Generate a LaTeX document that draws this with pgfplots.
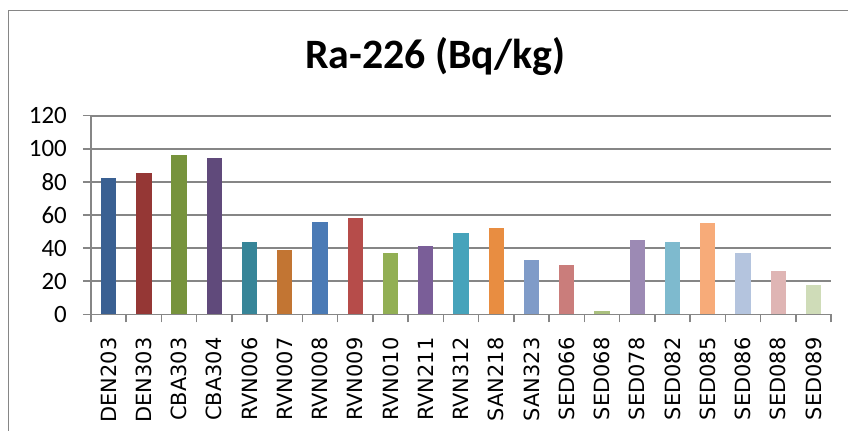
\documentclass[border=0pt]{standalone}
\usepackage{fontspec}
\setmainfont{Carlito}
\newfontfamily\dejavu{DejaVu Sans}
\usepackage{pgfplots}
\pgfplotsset{compat=1.18}
\definecolor{axgray}{RGB}{134,134,134}
\definecolor{framegray}{RGB}{134,134,134}
\definecolor{c1}{RGB}{58,96,146}
\definecolor{c2}{RGB}{149,55,53}
\definecolor{c3}{RGB}{119,147,60}
\definecolor{c4}{RGB}{96,74,123}
\definecolor{c5}{RGB}{55,133,152}
\definecolor{c6}{RGB}{194,117,51}
\definecolor{c7}{RGB}{74,122,181}
\definecolor{c8}{RGB}{182,76,74}
\definecolor{c9}{RGB}{146,175,84}
\definecolor{c10}{RGB}{122,94,152}
\definecolor{c11}{RGB}{70,163,187}
\definecolor{c12}{RGB}{232,141,65}
\definecolor{c13}{RGB}{127,155,200}
\definecolor{c14}{RGB}{202,125,123}
\definecolor{c15}{RGB}{170,192,126}
\definecolor{c16}{RGB}{156,138,180}
\definecolor{c17}{RGB}{126,186,206}
\definecolor{c18}{RGB}{247,171,121}
\definecolor{c19}{RGB}{180,196,222}
\definecolor{c20}{RGB}{223,181,180}
\definecolor{c21}{RGB}{207,220,184}
\begin{document}
\begin{tikzpicture}[x=1bp,y=1bp]
\useasboundingbox (0,0) rectangle (848,430);
\draw[framegray, line width=1.2bp] (8.5,-5) -- (8.5,419.5) -- (853,419.5);
\node[font=\fontsize{42}{42}\selectfont\bfseries, anchor=base] at (435,362) {Ra-226 (Bq/kg)};
\begin{axis}[
  at={(91bp,115.7bp)}, anchor=south west,
  scale only axis, width=740bp, height=198.6bp,
  xmin=-0.5, xmax=20.5, ymin=0, ymax=120,
  ytick={0,20,...,120},
  xtick={-0.5,0.5,...,20.5},
  x tick label as interval,
  xticklabels={DEN203,DEN303,CBA303,CBA304,RVN006,RVN007,RVN008,RVN009,RVN010,RVN211,RVN312,SAN218,SAN323,SED066,SED068,SED078,SED082,SED085,SED086,SED088,SED089},
  xticklabel style={font=\dejavu\fontsize{21}{21}\selectfont, rotate=90, anchor=east, inner sep=0pt},
  yticklabel style={font=\fontsize{25}{25}\selectfont, anchor=east, inner sep=0pt},
  /pgf/number format/assume math mode=true,
  tick align=outside,
  major tick length=8bp,
  tick style={draw=axgray, line width=1.5bp},
  xtick pos=bottom, ytick pos=left,
  ymajorgrids,
  grid style={draw=axgray, line width=1.6bp},
  axis line style={draw=axgray, line width=1.6bp},
  axis x line*=bottom, axis y line*=left,
  ybar, bar width=15.3bp, bar shift=0bp,
  xticklabel shift=15bp,
  yticklabel shift=16bp,
  clip=false,
]
\addplot[fill=c1, draw=none] coordinates {(0,82.4)};
\addplot[fill=c2, draw=none] coordinates {(1,85.4)};
\addplot[fill=c3, draw=none] coordinates {(2,96.3)};
\addplot[fill=c4, draw=none] coordinates {(3,94.5)};
\addplot[fill=c5, draw=none] coordinates {(4,43.7)};
\addplot[fill=c6, draw=none] coordinates {(5,38.9)};
\addplot[fill=c7, draw=none] coordinates {(6,55.8)};
\addplot[fill=c8, draw=none] coordinates {(7,58.2)};
\addplot[fill=c9, draw=none] coordinates {(8,37.1)};
\addplot[fill=c10, draw=none] coordinates {(9,41.3)};
\addplot[fill=c11, draw=none] coordinates {(10,49.1)};
\addplot[fill=c12, draw=none] coordinates {(11,52.2)};
\addplot[fill=c13, draw=none] coordinates {(12,32.8)};
\addplot[fill=c14, draw=none] coordinates {(13,29.8)};
\addplot[fill=c15, draw=none] coordinates {(14,2.0)};
\addplot[fill=c16, draw=none] coordinates {(15,44.9)};
\addplot[fill=c17, draw=none] coordinates {(16,43.7)};
\addplot[fill=c18, draw=none] coordinates {(17,55.2)};
\addplot[fill=c19, draw=none] coordinates {(18,37.1)};
\addplot[fill=c20, draw=none] coordinates {(19,26.2)};
\addplot[fill=c21, draw=none] coordinates {(20,17.7)};
\end{axis}
\end{tikzpicture}
\end{document}
